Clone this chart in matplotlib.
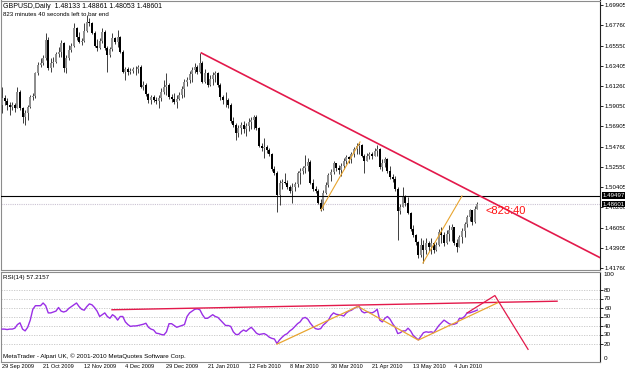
import matplotlib
matplotlib.use("Agg")
import matplotlib.pyplot as plt
import matplotlib.transforms as mtransforms
import numpy as np

plt.rcParams['font.family'] = ['Liberation Sans', 'DejaVu Sans']

# GBPUSD daily candles, prices in 1e-4 units (15991 -> 1.5991)
first_open = 15920
closes = [
    15991, 15966, 15920, 15902, 15920, 15884, 16062, 15884, 15795, 15830,
    15902, 16002, 16016, 16259, 16348, 16366, 16419, 16616, 16312, 16366,
    16384, 16466, 16491, 16580, 16312, 16419, 16509, 16551, 16741, 16651,
    16598, 16609, 16716, 16812, 16794, 16694, 16551, 16526, 16609, 16705,
    16526, 16455, 16516, 16634, 16598, 16644, 16491, 16277, 16302, 16277,
    16287, 16302, 16309, 16323, 16116, 16134, 16037, 15973, 16002, 15973,
    15966, 15991, 16063, 16116, 16134, 16009, 15990, 15956, 15981, 16027,
    16090, 16170, 16188, 16250, 16295, 16330, 16277, 16373, 16170, 16259,
    16134, 16195, 16241, 16266, 16134, 16002, 15973, 15973, 15920, 15747,
    15706, 15616, 15670, 15706, 15659, 15695, 15741, 15759, 15788, 15670,
    15481, 15456, 15474, 15438, 15395, 15231, 15195, 14956, 15081, 15099,
    15088, 15038, 15002, 15045, 15074, 15195, 15217, 15242, 15267, 15313,
    15088, 15027, 15002, 14874, 14813, 14975, 15064, 15171, 15207, 15296,
    15242, 15225, 15267, 15325, 15360, 15339, 15396, 15446, 15482, 15492,
    15375, 15325, 15375, 15396, 15375, 15432, 15446, 15253, 15303, 15339,
    15217, 15146, 15125, 15018, 14789, 14825, 14939, 14875, 14768, 14589,
    14528, 14450, 14314, 14421, 14368, 14439, 14396, 14446, 14368, 14421,
    14564, 14528, 14446, 14543, 14582, 14610, 14446, 14396, 14503, 14575,
    14646, 14718, 14796, 14671, 14813, 14860,
]
highs = [
    16116, 16027, 15991, 15955, 15955, 15937, 16116, 16080, 15902, 15866,
    15920, 16027, 16044, 16277, 16384, 16419, 16455, 16687, 16651, 16419,
    16437, 16491, 16544, 16616, 16598, 16455, 16562, 16580, 16794, 16758,
    16705, 16634, 16794, 16883, 16848, 16812, 16716, 16623, 16634, 16741,
    16723, 16551, 16537, 16687, 16651, 16723, 16659, 16509, 16330, 16323,
    16312, 16323, 16337, 16348, 16348, 16180, 16152, 16052, 16027, 16027,
    16002, 16027, 16098, 16188, 16259, 16152, 16040, 16045, 16027, 16063,
    16120, 16195, 16223, 16280, 16330, 16366, 16348, 16473, 16395, 16302,
    16277, 16241, 16277, 16288, 16277, 16152, 16027, 16063, 15991, 15938,
    15788, 15731, 15706, 15741, 15752, 15731, 15777, 15795, 15813, 15813,
    15681, 15509, 15563, 15491, 15456, 15409, 15267, 15217, 15117, 15134,
    15188, 15117, 15063, 15081, 15099, 15217, 15242, 15267, 15384, 15349,
    15331, 15124, 15052, 15017, 14910, 15010, 15100, 15196, 15232, 15325,
    15303, 15278, 15296, 15350, 15385, 15375, 15421, 15474, 15517, 15510,
    15500, 15396, 15403, 15421, 15421, 15457, 15492, 15457, 15339, 15367,
    15350, 15267, 15182, 15160, 15039, 14860, 15046, 14957, 14932, 14778,
    14636, 14540, 14460, 14493, 14475, 14493, 14468, 14493, 14457, 14457,
    14589, 14618, 14564, 14582, 14636, 14646, 14610, 14482, 14528, 14600,
    14671, 14743, 14810, 14800, 14840, 14886,
]
lows = [
    15830, 15920, 15866, 15812, 15866, 15848, 15884, 15866, 15723, 15705,
    15759, 15884, 15973, 15991, 16241, 16323, 16348, 16401, 16294, 16277,
    16323, 16366, 16437, 16437, 16277, 16259, 16401, 16491, 16537, 16616,
    16580, 16562, 16598, 16705, 16766, 16680, 16537, 16501, 16516, 16587,
    16509, 16277, 16430, 16501, 16573, 16537, 16473, 16259, 16187, 16241,
    16252, 16259, 16241, 16266, 16098, 16080, 16016, 15945, 15930, 15952,
    15930, 15884, 15966, 16038, 16027, 15981, 15950, 15931, 15884, 15973,
    16000, 16009, 16123, 16160, 16170, 16259, 16252, 16266, 16152, 16159,
    16109, 16123, 16134, 16170, 16109, 15973, 15931, 15902, 15884, 15731,
    15681, 15545, 15574, 15609, 15624, 15588, 15645, 15659, 15659, 15652,
    15467, 15431, 15349, 15409, 15374, 15217, 15170, 14777, 14849, 15017,
    15074, 15017, 14981, 14867, 15002, 15038, 15074, 15181, 15195, 15217,
    15074, 15002, 14981, 14860, 14788, 14795, 14968, 15046, 15110, 15182,
    15217, 15182, 15160, 15232, 15289, 15303, 15303, 15360, 15396, 15396,
    15360, 15189, 15325, 15339, 15339, 15375, 15375, 15232, 15217, 15253,
    15196, 15125, 15100, 15003, 14475, 14753, 14825, 14839, 14753, 14575,
    14503, 14420, 14279, 14290, 14225, 14325, 14360, 14330, 14339, 14360,
    14410, 14446, 14410, 14430, 14468, 14468, 14421, 14350, 14396, 14439,
    14503, 14610, 14680, 14636, 14660, 14805,
]

# RSI(14), one value per bar
rsi = [
    36, 36, 35.5, 36, 36, 37, 41, 43, 36, 34,
    38, 46, 58, 62, 62, 62, 65, 62, 54, 54,
    55, 56, 60, 56, 55, 56, 59, 61, 63, 65,
    61, 58, 57, 61, 64, 63, 60, 56, 50, 52,
    54, 50, 48, 52, 50, 46, 50, 50, 44, 41,
    39, 39.5, 39.5, 40, 40.7, 41.4, 42.5, 38, 36, 35,
    31.5, 31, 30, 29.5, 33, 42, 42, 40, 38, 39,
    40, 41, 50, 54, 56, 58, 58.5, 57.5, 52, 48,
    48, 50, 52, 50, 49, 46, 43, 40, 40, 39,
    33, 30, 30, 33, 35, 33.5, 36, 38, 35, 31.5,
    30, 30.5, 31, 29.5, 27, 25.7, 25, 20, 24, 27,
    29.5, 31, 34, 36, 39, 42, 44, 48, 49, 47,
    42.5, 39, 36.5, 35.8, 36.5, 40.5, 43, 46, 51, 54,
    52.5, 52, 51.5, 50.5, 54, 56, 57, 59, 60.5, 61.3,
    55.7, 54, 55, 54.5, 54, 55.5, 58, 46, 44, 48,
    50, 47, 42, 38, 31, 32, 34, 34, 37, 34,
    29, 26.5, 24, 28, 32, 33, 32.5, 33, 32, 36,
    40, 43, 46, 44, 42, 41, 41.5, 42.5, 48, 48,
    50, 54, 54, 55, 56, 57.2,
]

date_labels = ['29 Sep 2009', '21 Oct 2009', '12 Nov 2009', '4 Dec 2009',
               '29 Dec 2009', '21 Jan 2010', '12 Feb 2010', '8 Mar 2010',
               '30 Mar 2010', '21 Apr 2010', '13 May 2010', '4 Jun 2010']
date_bars = [0, 16, 32, 48, 64, 80, 96, 112, 128, 144, 160, 176]

price_ticks = [1.69905, 1.67760, 1.65550, 1.63405, 1.61260, 1.59050, 1.56905,
               1.54760, 1.52550, 1.50405, 1.48260, 1.46050, 1.43905, 1.41760]
hline_price = 1.49497
bid_price = 1.48601

# drawn objects (bar index, value)
red_trend_bars = [77.6, 233.0]
red_trend_prices = [1.6477, 1.4283]
orange1_bars = [124.1, 139.3]
orange1_prices = [1.4797, 1.5525]
orange2_bars = [163.8, 179.0]
orange2_prices = [1.4230, 1.4947]
rsi_red_bars = [42.8, 216.0]
rsi_red_vals = [57.5, 67.0]
rsi_orange_bars = [107.0, 138.5, 162.0, 193.0]
rsi_orange_vals = [19.3, 61.2, 23.8, 65.4]
rsi_zig_bars = [181.0, 191.8, 204.7]
rsi_zig_vals = [54.0, 73.3, 13.5]

W, H = 625, 373
fig = plt.figure(figsize=(W / 100, H / 100), dpi=100)
fig.patch.set_facecolor('white')

ax = fig.add_axes([0.5 / W, 1 - 270 / H, 599.5 / W, 269.5 / H])
ax2 = fig.add_axes([0.5 / W, 1 - 361.5 / H, 599.5 / W, 90 / H])
xlim = (-0.58, 232.7)

# candles
c = np.array(closes) / 1e4
o = np.array([first_open] + closes[:-1]) / 1e4
h = np.array(highs) / 1e4
l = np.array(lows) / 1e4
idx = np.arange(len(c))
up = c >= o
ax.vlines(idx, l, h, color='#303030', lw=0.65, zorder=2)
body_low = np.minimum(o, c)
body_h = np.maximum(np.abs(c - o), 0.00012)
ax.bar(idx[up], body_h[up], bottom=body_low[up], width=0.78,
       color='#8e8e8e', edgecolor='none', zorder=3)
ax.bar(idx[~up], body_h[~up], bottom=body_low[~up], width=0.78,
       color='black', edgecolor='none', zorder=3)

ax.axhline(hline_price, color='black', lw=0.8, zorder=4)
ax.axhline(bid_price, color='#cbc3d3', lw=0.8, ls=(0, (1, 1)), zorder=1)
ax.plot(red_trend_bars, red_trend_prices, color='#e3194b', lw=1.2, zorder=5)
ax.plot(orange1_bars, orange1_prices, color='#e8a530', lw=0.8, zorder=5)
ax.plot(orange2_bars, orange2_prices, color='#e8a530', lw=0.8, zorder=5)
ax.text(188.3, 1.4786, '<823:40', color='#ff1010', fontsize=8,
        ha='left', va='center', zorder=6)

ax.set_xlim(*xlim)
ax.set_ylim(1.41550, 1.703865)
ax.set_xticks([])
ax.yaxis.tick_right()
ax.set_yticks(price_ticks)
ax.set_yticklabels(['%.5f' % p for p in price_ticks])
ax.tick_params(axis='y', length=2, width=0.6, pad=1, labelsize=4.4)

tr = mtransforms.blended_transform_factory(ax.transAxes, ax.transData)
for p in (hline_price, bid_price):
    ax.text(1.004, p, '%.5f' % p, transform=tr, color='white', fontsize=4.4,
            ha='left', va='center', clip_on=False, zorder=10,
            bbox=dict(boxstyle='square,pad=0.12', fc='black', ec='none'))

# RSI window
ax2.plot(idx, rsi, color='#9a2fe6', lw=1.0, zorder=3)
for lev in (20, 30, 40, 50, 60, 70, 80):
    ax2.axhline(lev, color='#c4c4c4', lw=0.6, ls=(0, (1.5, 1.5)), zorder=1)
ax2.plot(rsi_red_bars, rsi_red_vals, color='#e3194b', lw=1.0, zorder=4)
ax2.plot(rsi_orange_bars, rsi_orange_vals, color='#e8a530', lw=0.9, zorder=4)
ax2.plot(rsi_zig_bars, rsi_zig_vals, color='#e3194b', lw=0.9, zorder=5)
ax2.set_xlim(*xlim)
ax2.set_ylim(0, 100)
ax2.set_xticks([])
ax2.yaxis.tick_right()
ax2.set_yticks([80, 70, 60, 50, 40, 30, 20])
ax2.tick_params(axis='y', length=2, width=0.6, pad=1, labelsize=4.6)
tr2 = mtransforms.blended_transform_factory(ax2.transAxes, ax2.transData)
ax2.text(1.006, 99, '100', transform=tr2, fontsize=4.6, ha='left', va='top',
         clip_on=False)
ax2.text(1.006, 1, '0', transform=tr2, fontsize=4.6, ha='left', va='bottom',
         clip_on=False)

trd = mtransforms.blended_transform_factory(ax2.transData, ax2.transAxes)
for b, lab in zip(date_bars, date_labels):
    ax2.text(b, -0.061, lab, transform=trd, fontsize=4.1, ha='left',
             va='center', clip_on=False)

for a in (ax, ax2):
    for s in a.spines.values():
        s.set_color('#8c8c8c')
        s.set_linewidth(0.8)
    a.spines['right'].set_color('#202020')

fig.text(3 / W, 1 - 6 / H, 'GBPUSD,Daily  1.48133 1.48861 1.48053 1.48601',
         fontsize=5, va='center')
fig.text(3 / W, 1 - 14 / H, '823 minutes 40 seconds left to bar end',
         fontsize=4.4, va='center')
fig.text(3 / W, 1 - 278 / H, 'RSI(14) 57.2157', fontsize=4.5, va='center')
fig.text(3 / W, 1 - 356 / H,
         'MetaTrader - Alpari UK, \u00a9 2001-2010 MetaQuotes Software Corp.',
         fontsize=4.5, va='center')

fig.savefig('out.png', dpi=100)
